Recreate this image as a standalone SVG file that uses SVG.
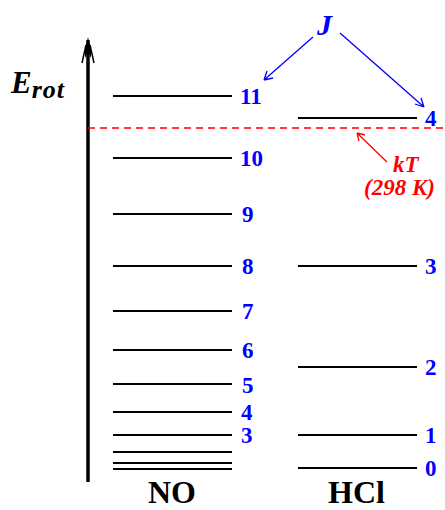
<svg xmlns="http://www.w3.org/2000/svg" width="445" height="510" viewBox="0 0 445 510">
<style>
.lvl{stroke:#000;stroke-width:2;fill:none}
.num{font-family:"Liberation Serif",serif;font-weight:bold;font-size:23px;fill:#0000ff}
.mol{font-family:"Liberation Serif",serif;font-weight:bold;font-size:32px;fill:#000}
.red{font-family:"Liberation Serif",serif;font-weight:bold;font-style:italic;font-size:23px;fill:#ff0000}
.blu{stroke:#0000ff;stroke-width:1.3;fill:none}
</style>
<rect width="445" height="510" fill="#fff"/>
<g id="axis">
<line x1="88" y1="40" x2="88" y2="482" stroke="#000" stroke-width="3.5"/>
<path d="M88,37 L85,50 L85,58 L88,52 L91,58 L91,50 Z" fill="#000"/>
<path d="M82,63 L86,45 M94,63 L90,45" stroke="#000" stroke-width="1.5" fill="none"/>
<text x="11" y="93" font-family="Liberation Serif,serif" font-weight="bold" font-style="italic" font-size="31">E<tspan font-size="26" dy="5" letter-spacing="1">rot</tspan></text>
</g>
<g id="kT">
<line x1="88" y1="128" x2="445" y2="128" stroke="#ff0000" stroke-width="1.5" stroke-dasharray="7,5"/>
<path d="M387,162 L357,133 M357,133 L359,141 M357,133 L365,135" stroke="#ff0000" stroke-width="1.3" fill="none"/>
<text class="red" x="393" y="172">kT</text>
<text class="red" x="364" y="195">(298 K)</text>
</g>
<g id="NO">
<line class="lvl" x1="113" y1="96" x2="232" y2="96"/>
<line class="lvl" x1="113" y1="158" x2="232" y2="158"/>
<line class="lvl" x1="113" y1="214" x2="232" y2="214"/>
<line class="lvl" x1="113" y1="266" x2="232" y2="266"/>
<line class="lvl" x1="113" y1="311" x2="232" y2="311"/>
<line class="lvl" x1="113" y1="350" x2="232" y2="350"/>
<line class="lvl" x1="113" y1="384" x2="232" y2="384"/>
<line class="lvl" x1="113" y1="412" x2="232" y2="412"/>
<line class="lvl" x1="113" y1="435" x2="232" y2="435"/>
<line class="lvl" x1="113" y1="452" x2="232" y2="452"/>
<line class="lvl" x1="113" y1="463" x2="232" y2="463"/>
<line class="lvl" x1="113" y1="469" x2="232" y2="469"/>
<text class="num" x="240" y="104">11</text>
<text class="num" x="240" y="166">10</text>
<text class="num" x="242" y="222">9</text>
<text class="num" x="242" y="274">8</text>
<text class="num" x="242" y="319">7</text>
<text class="num" x="242" y="358">6</text>
<text class="num" x="242" y="393">5</text>
<text class="num" x="241" y="420">4</text>
<text class="num" x="241" y="443">3</text>
<text class="mol" x="148" y="503">NO</text>
</g>
<g id="HCl">
<line class="lvl" x1="298" y1="118" x2="417" y2="118"/>
<line class="lvl" x1="298" y1="266" x2="417" y2="266"/>
<line class="lvl" x1="298" y1="367" x2="417" y2="367"/>
<line class="lvl" x1="298" y1="435" x2="417" y2="435"/>
<line class="lvl" x1="298" y1="468" x2="417" y2="468"/>
<text class="num" x="425" y="126">4</text>
<text class="num" x="425" y="274">3</text>
<text class="num" x="425" y="375">2</text>
<text class="num" x="425" y="443">1</text>
<text class="num" x="425" y="476">0</text>
<text class="mol" x="328" y="503">HCl</text>
</g>
<g id="J">
<text x="317" y="35" font-family="Liberation Serif,serif" font-weight="bold" font-style="italic" font-size="30" fill="#0000ff">J</text>
</g>
<g id="connectors">
<path class="blu" d="M313,37 L264,80 M264,80 L267,71 M264,80 L273,78"/>
<path class="blu" d="M340,33 L424,107 M424,107 L415,104 M424,107 L421,98"/>
</g>
</svg>
